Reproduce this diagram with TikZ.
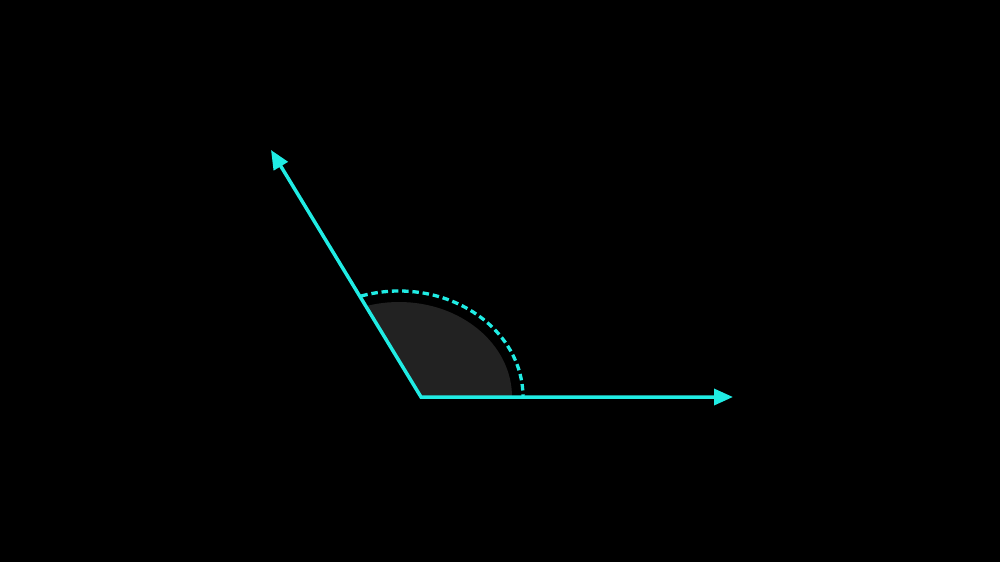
\documentclass[tikz,border=0pt]{standalone}
\usetikzlibrary{arrows.meta}
\definecolor{cyanline}{RGB}{32,236,228}
\definecolor{sectorgrey}{RGB}{34,34,34}
\tikzset{
  ray/.style={draw=cyanline, line width=3.5pt, miter limit=20,
    arrows={Triangle[length=19pt,width=16pt]-Triangle[length=19pt,width=16pt]}},
  dasharc/.style={draw=cyanline, line width=3.3pt, dash pattern=on 6.5pt off 3.8pt},
  sector/.style={fill=sectorgrey}
}
\begin{document}
\begin{tikzpicture}[x=1pt,y=-1pt]
  \fill[black] (0,0) rectangle (1000,562);
  \useasboundingbox (0,0) rectangle (1000,562);
  \coordinate (O) at (421,397);
  \coordinate (A) at (271,150);
  \coordinate (B) at (733,397);
  \coordinate (C) at (399,397);
  \begin{scope}
    \clip (O) -- (A) -- (733,150) -- (733,397) -- cycle;
    \path[sector] (C) ellipse [x radius=113, y radius=95];
    \path[dasharc] (C) ellipse [x radius=124, y radius=106];
  \end{scope}
  \draw[ray] (A) -- (O) -- (B);
\end{tikzpicture}
\end{document}
